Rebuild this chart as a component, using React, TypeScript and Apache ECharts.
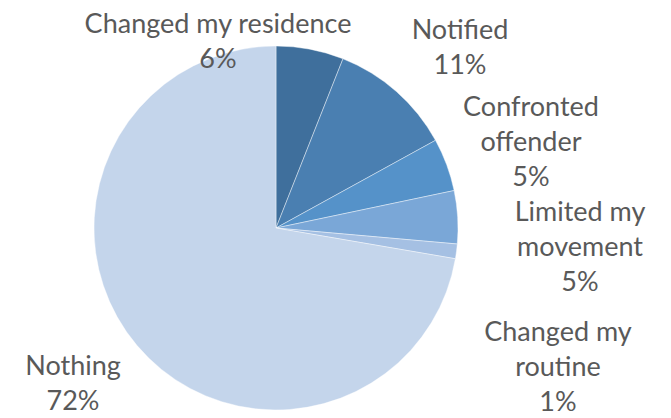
import React, { useEffect, useRef } from "react";
import * as echarts from "echarts";

const categories = [
  "Changed my residence",
  "Notified",
  "Confronted offender",
  "Limited my movement",
  "Changed my routine",
  "Nothing",
];
const values = [6.0, 11.0, 4.7, 4.7, 1.3, 72.3];
const percentLabels = ["6%", "11%", "5%", "5%", "1%", "72%"];
const labelLines = [
  ["Changed my residence"],
  ["Notified"],
  ["Confronted", "offender"],
  ["Limited my", "movement"],
  ["Changed my", "routine"],
  ["Nothing"],
];
const colors = ["#3F6F9C", "#4A7FB1", "#5592C9", "#7AA7D7", "#A5C0E3", "#C4D5EB"];

// label block centres (layout)
const labelPos: [number, number][] = [
  [218, 40],
  [460, 46],
  [531, 140],
  [580, 245],
  [558, 365],
  [73, 382],
];

export default function App() {
  const ref = useRef<HTMLDivElement>(null);
  useEffect(() => {
    document.body.style.margin = "0";
    const chart = echarts.init(ref.current!, undefined, { renderer: "svg" });
    chart.setOption({
      animation: false,
      backgroundColor: "#ffffff",
      series: [
        {
          type: "pie",
          center: [276, 228],
          radius: 182,
          startAngle: 90,
          clockwise: true,
          avoidLabelOverlap: false,
          itemStyle: { borderColor: "rgba(255,255,255,0.7)", borderWidth: 0.6 },
          label: {
            show: true,
            position: "outside",
            fontFamily: "Lato, 'Noto Sans', sans-serif",
            fontSize: 27,
            lineHeight: 35,
            color: "#595959",
            align: "center",
            formatter: (p: any) =>
              [...labelLines[p.dataIndex], percentLabels[p.dataIndex]].join("\n"),
          },
          labelLine: { show: false },
          labelLayout: (params: any) => {
            const [x, y] = labelPos[params.dataIndex];
            return { x, y, align: "center", verticalAlign: "middle" };
          },
          emphasis: { disabled: true },
          data: categories.map((name, i) => ({
            name,
            value: values[i],
            itemStyle: { color: colors[i] },
          })),
        },
      ],
    });
    return () => chart.dispose();
  }, []);
  return <div ref={ref} style={{ width: 671, height: 418 }} />;
}
